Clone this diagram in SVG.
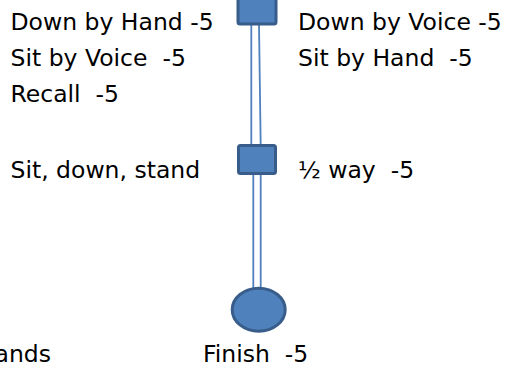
<svg xmlns="http://www.w3.org/2000/svg" width="507" height="367" viewBox="0 0 507 367" xml:space="preserve">
<style>
text{font-family:"DejaVu Sans","Verdana",sans-serif;font-size:23.5px;fill:#000;white-space:pre}
.shape{fill:#4F81BD;stroke:#385D8A;stroke-width:3}
.conn{stroke:#4F81BD;stroke-width:1.8;fill:none}
</style>
<rect width="507" height="367" fill="#fff"/>
<g id="connectors">
<line class="conn" x1="251.3" y1="25" x2="251.3" y2="145"/>
<line class="conn" x1="259" y1="25" x2="260.7" y2="145"/>
<line class="conn" x1="253.3" y1="175" x2="253.3" y2="288"/>
<line class="conn" x1="260.7" y1="175" x2="260.7" y2="288"/>
</g>
<g id="node-top">
<rect class="shape" x="238" y="-10" width="38" height="34" rx="2"/>
</g>
<g id="node-middle">
<rect class="shape" x="238.5" y="145.5" width="37" height="28" rx="2"/>
</g>
<g id="node-finish">
<ellipse class="shape" cx="258.7" cy="309.7" rx="26.5" ry="21.5"/>
</g>
<g id="labels">
<text x="10.5" y="29.5">Down by Hand -5</text>
<text x="10.5" y="66">Sit by Voice  -5</text>
<text x="10.5" y="102">Recall  -5</text>
<text x="298" y="29.5">Down by Voice -5</text>
<text x="298" y="66">Sit by Hand  -5</text>
<text x="10.5" y="177.5">Sit, down, stand</text>
<text x="298" y="177.5">½ way  -5</text>
<text x="203" y="362">Finish  -5</text>
<text x="51" y="362" text-anchor="end">ands</text>
</g>
</svg>
